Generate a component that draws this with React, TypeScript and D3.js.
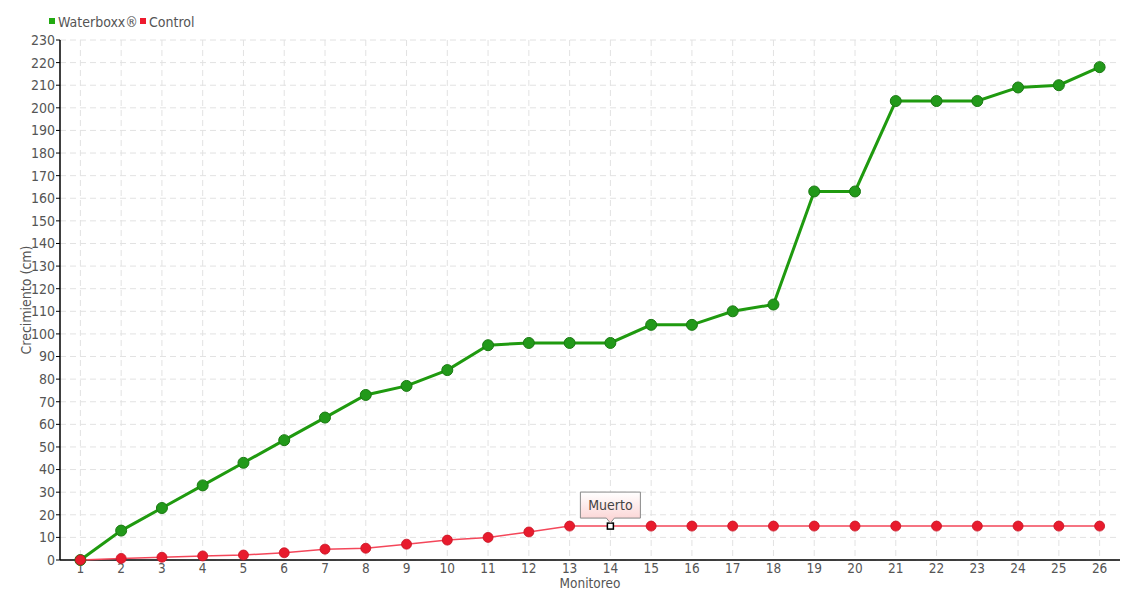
import React from "react";
import * as d3 from "d3";

const categories = ["1","2","3","4","5","6","7","8","9","10","11","12","13","14","15","16","17","18","19","20","21","22","23","24","25","26"];
const waterboxx = [0,13,23,33,43,53,63,73,77,84,95,96,96,96,104,104,110,113,163,163,203,203,203,209,210,218];
const control = [0,0.7,1.2,1.8,2.2,3.2,4.8,5.2,7,8.8,10,12.4,15,15,15,15,15,15,15,15,15,15,15,15,15,15];
const yTicks = d3.range(0, 240, 10);
const seriesNames = ["Waterboxx®", "Control"];
const tooltipIndex = 13;
const tooltipText = "Muerto";

const W = 1140, H = 600;
const M = { left: 60, right: 20, top: 40, bottom: 40 };
const FONT = "'DejaVu Sans Condensed', 'Liberation Sans Narrow', 'Roboto Condensed', 'DejaVu Sans', sans-serif";

export default function App() {
  const x = d3.scalePoint<string>().domain(categories).range([M.left, W - M.right]).padding(0.5);
  const y = d3.scaleLinear().domain([0, 230]).range([H - M.bottom, M.top]);
  const line = d3.line<number>().x((_, i) => x(categories[i])!).y(d => y(d));
  const tx = x(categories[tooltipIndex])!;
  const ty = y(control[tooltipIndex]);
  return (
    <svg width={W} height={H} style={{ position: "absolute", left: 0, top: 0, fontFamily: FONT }}>
      <defs>
        <linearGradient id="tipg" x1="0" y1="0" x2="0" y2="1">
          <stop offset="0" stopColor="#ffffff" />
          <stop offset="1" stopColor="#fbd0d0" />
        </linearGradient>
      </defs>
      {/* grid */}
      {yTicks.map(t => (
        <line key={"h" + t} x1={M.left} x2={W - M.right} y1={y(t)} y2={y(t)} stroke="#e2e2e2" strokeDasharray="6,4" />
      ))}
      {categories.map(c => (
        <line key={"v" + c} x1={x(c)} x2={x(c)} y1={M.top} y2={H - M.bottom} stroke="#e2e2e2" strokeDasharray="6,4" />
      ))}
      {/* axes */}
      <line x1={M.left} x2={M.left} y1={M.top} y2={H - M.bottom} stroke="#000" strokeWidth={1.5} />
      <line x1={M.left} x2={W - M.right} y1={H - M.bottom} y2={H - M.bottom} stroke="#000" strokeWidth={1.5} />
      {yTicks.map(t => (
        <g key={"yt" + t}>
          <line x1={M.left - 4} x2={M.left} y1={y(t)} y2={y(t)} stroke="#000" />
          <text x={M.left - 5} y={y(t)} dy="0.35em" textAnchor="end" fontSize={14} fill="#555">{t}</text>
        </g>
      ))}
      {categories.map(c => (
        <text key={"xt" + c} x={x(c)} y={H - M.bottom + 13} textAnchor="middle" fontSize={13.5} fill="#555">{c}</text>
      ))}
      <text x={590} y={588} textAnchor="middle" fontSize={13.5} fill="#555">Monitoreo</text>
      <text transform={`translate(31,${(M.top + H - M.bottom) / 2}) rotate(-90)`} textAnchor="middle" fontSize={14} fill="#555">Crecimiento (cm)</text>
      {/* series */}
      <path d={line(waterboxx)!} fill="none" stroke="#1f9a0f" strokeWidth={3} />
      <path d={line(control)!} fill="none" stroke="#f4475a" strokeWidth={1.5} />
      {waterboxx.map((v, i) => (
        <circle key={"w" + i} cx={x(categories[i])} cy={y(v)} r={5.5} fill="#22991a" stroke="#1a7a12" strokeWidth={1} />
      ))}
      {control.map((v, i) => i === tooltipIndex ? null : (
        <circle key={"c" + i} cx={x(categories[i])} cy={y(v)} r={5} fill="#e81b2d" stroke="#c81424" strokeWidth={0.8} />
      ))}
      <rect x={tx - 3} y={ty - 3} width={6} height={6} fill="#fff" stroke="#000" strokeWidth={1.5} />
      {/* tooltip */}
      <path d={`M${tx - 30},${ty - 34} H${tx + 30} V${ty - 8} H${tx + 4} L${tx},${ty - 3} L${tx - 4},${ty - 8} H${tx - 30} Z`} fill="url(#tipg)" stroke="#888" />
      <text x={tx} y={ty - 16} textAnchor="middle" fontSize={14} fill="#444">{tooltipText}</text>
      {/* legend */}
      <rect x={49} y={18} width={6} height={6} fill="#22aa11" />
      <text x={58} y={27} fontSize={14} fill="#555">{seriesNames[0]}</text>
      <rect x={140} y={18} width={6} height={6} fill="#ee1a2e" />
      <text x={149} y={27} fontSize={14} fill="#555">{seriesNames[1]}</text>
    </svg>
  );
}
